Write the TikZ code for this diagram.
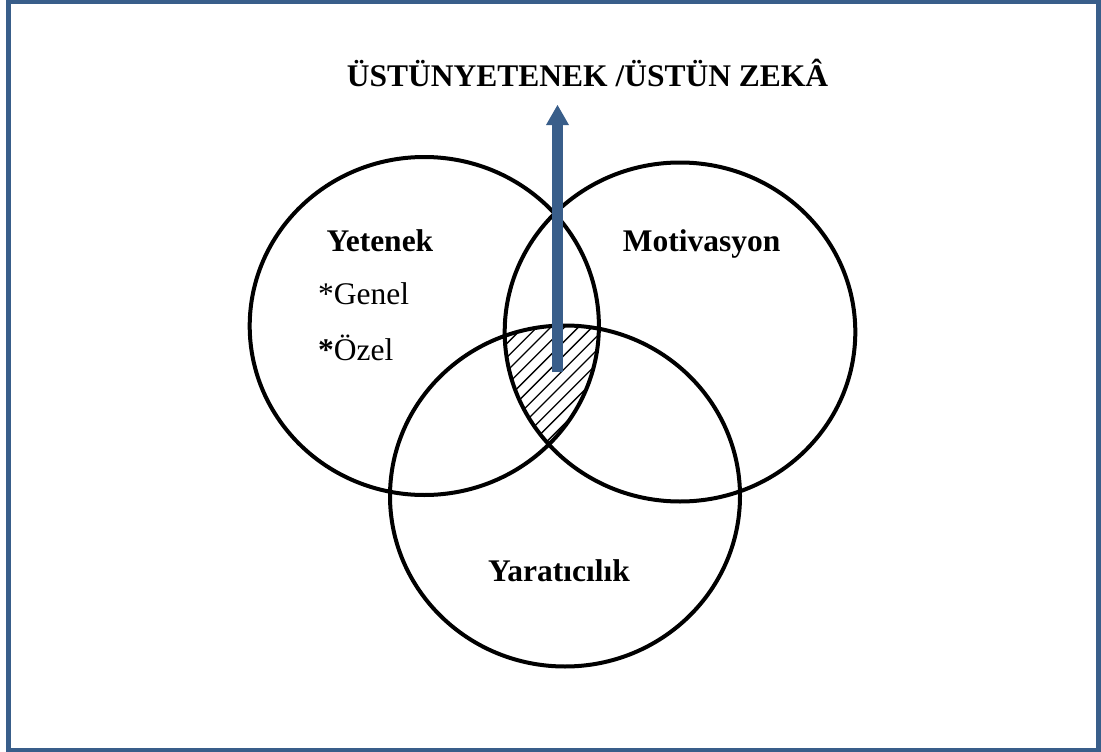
\documentclass[tikz,border=0pt]{standalone}
\usepackage{fontspec}
\setmainfont{Liberation Serif}
\usetikzlibrary{arrows.meta,shapes.geometric}
\definecolor{wordblue}{RGB}{57,94,138}
\begin{document}
\begin{tikzpicture}[x=1pt,y=-1pt,
  vennset/.style={ellipse, draw=black, line width=4pt, inner sep=0pt, outer sep=0pt},
  lbl/.style={inner sep=0pt, anchor=base west, font=\fontsize{31.5}{38}\selectfont\bfseries},
  sublbl/.style={inner sep=0pt, anchor=base west, font=\fontsize{31.5}{38}\selectfont},
  hatchline/.style={line width=1.3pt, black},
  bigarrow/.style={draw=wordblue, line width=10.5pt, -{Triangle[width=23pt,length=20pt,line width=0pt]}}]
\useasboundingbox (0,0) rectangle (1101,752);
\draw[wordblue, line width=5pt] (8.5,2) rectangle (1098.5,750);
% hatched common area
\begin{scope}
  \clip (424.3,326) ellipse [x radius=174.6pt, y radius=169pt];
  \clip (680,332) ellipse [x radius=175.3pt, y radius=169.5pt];
  \clip (565,496) ellipse [x radius=175pt, y radius=170.5pt];
  \foreach \k in {-5,...,10} {
    \draw[hatchline] ({878+13.8*\k-250},250) -- ({878+13.8*\k-500},500);
  }
\end{scope}
% circles
\node[vennset, minimum width=349.2pt, minimum height=338pt] (yet) at (424.3,326) {};
\node[vennset, minimum width=350.6pt, minimum height=339pt] (mot) at (680,332) {};
\node[vennset, minimum width=350pt, minimum height=341pt] (yar) at (565,496) {};
% labels
\node[lbl] (title) at (346.7,87) {ÜSTÜNYETENEK /ÜSTÜN ZEKÂ};
\node[lbl] (yetlbl) at (326.3,251.7) {Yetenek};
\node[lbl] (motlbl) at (622.6,251.7) {Motivasyon};
\node[sublbl] (genel) at (318,304.8) {*Genel};
\node[sublbl] (ozel) at (318,360) {{\bfseries *}Özel};
\node[lbl] (yarlbl) at (488,581) {Yaratıcılık};
% arrow
\coordinate (abase) at (557.5,372);
\coordinate (atip) at (557.5,105);
\draw[bigarrow] (abase) -- (atip);
\end{tikzpicture}
\end{document}
